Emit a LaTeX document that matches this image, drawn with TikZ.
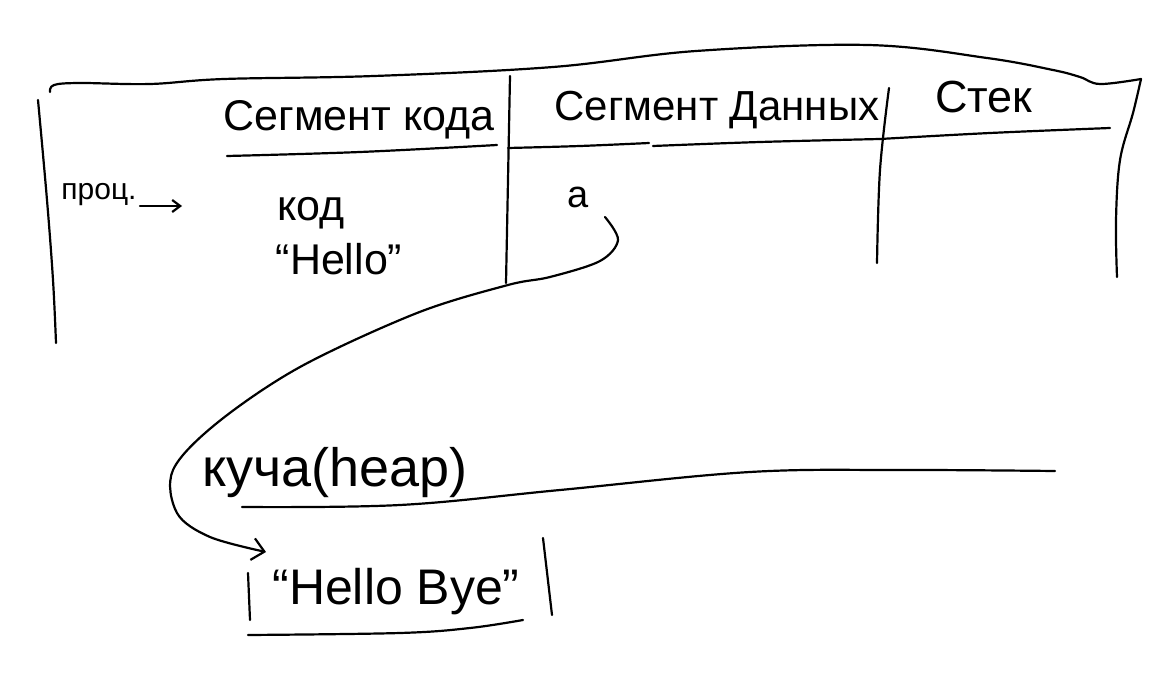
\documentclass[tikz,border=0pt]{standalone}
\usepackage{fontspec}
\setmainfont{Liberation Sans}
\usetikzlibrary{arrows.meta}
\begin{document}
\begin{tikzpicture}[x=1pt,y=-1pt, line width=2.2pt, line cap=round, line join=round,
  txt/.style={inner sep=0pt, anchor=base},
  pen/.style={draw=black, line width=2.2pt},
  head/.style={font=\fontsize{42}{50}\selectfont},
  cell/.style={font=\fontsize{43}{50}\selectfont},
  small/.style={font=\fontsize{30}{36}\selectfont}]
\useasboundingbox[fill=white] (0,0) rectangle (1173,693);

% outer outline of the process
\draw[pen] plot[smooth, tension=0.6] coordinates {(50,92) (54,85) (80,83) (150,84) (224,79) (374,76) (553,67) (696,51) (868,45) (987,58) (1053,70) (1080,77) (1100,84) (1141,79)};
\draw[pen] plot[smooth, tension=0.6] coordinates {(1141,79) (1133,113) (1120,160) (1116,220) (1117,277)};
\draw[pen] plot[smooth, tension=0.6] coordinates {(38,100) (47,200) (53,280) (56,343)};

% header texts
\node[txt, head, font=\fontsize{43}{50}\selectfont] (h1) at (359,130) {Сегмент кода};
\node[txt, head] (h2) at (717,121) {Сегмент Данных};
\node[txt, head, font=\fontsize{45}{52}\selectfont] (h3) at (984,113) {Стек};

% header underlines
\draw[pen] plot[smooth, tension=0.6] coordinates {(227,156) (360,152) (497,145)};
\draw[pen] plot[smooth, tension=0.6] coordinates {(508,148) (580,146) (649,143)};
\draw[pen] plot[smooth, tension=0.6] coordinates {(653,146) (760,142) (880,139)};
\draw[pen] plot[smooth, tension=0.6] coordinates {(880,139) (990,133) (1110,128)};

% column dividers
\draw[pen] plot[smooth, tension=0.6] coordinates {(510,76) (508,180) (506,283)};
\draw[pen] plot[smooth, tension=0.6] coordinates {(889,88) (880,170) (877,263)};

% contents
\node[txt, small] (proc) at (99,199) {проц.};
\coordinate (pa) at (140,206);
\coordinate (pb) at (182,206);
\draw[pen, -{Straight Barb[length=8pt,width=12pt]}] (pa) -- (pb);

\node[txt, cell] (kod) at (311,220) {код};
\node[txt, cell] (hello) at (339,274) {“Hello”};
\node[txt, cell, font=\fontsize{38}{44}\selectfont] (a) at (578,207) {a};

% heap
\node[txt, font=\fontsize{54}{62}\selectfont] (heap) at (335,486) {куча(heap)};
\draw[pen] plot[smooth, tension=0.6] coordinates {(242,507) (400,505) (560,490) (750,472) (900,470) (1055,471)};

% Hello Bye
\node[txt, font=\fontsize{50}{58}\selectfont] (hb) at (396,604) {“Hello Bye”};
\draw[pen] (248,573) -- (250,620);
\draw[pen] (543,538) -- (552,615);
\draw[pen] plot[smooth, tension=0.6] coordinates {(248,635) (400,633) (470,628) (523,620)};

% pointer from a to Hello Bye
\coordinate (tip) at (266,552);
\draw[pen, -{Straight Barb[length=12pt,width=22pt]}] plot[smooth, tension=0.55] coordinates {(605,217) (618,240) (600,261) (550,277) (508,285) (417,313) (300,367) (217,423) (173,470) (177,513) (210,537) (tip)};
\end{tikzpicture}
\end{document}
